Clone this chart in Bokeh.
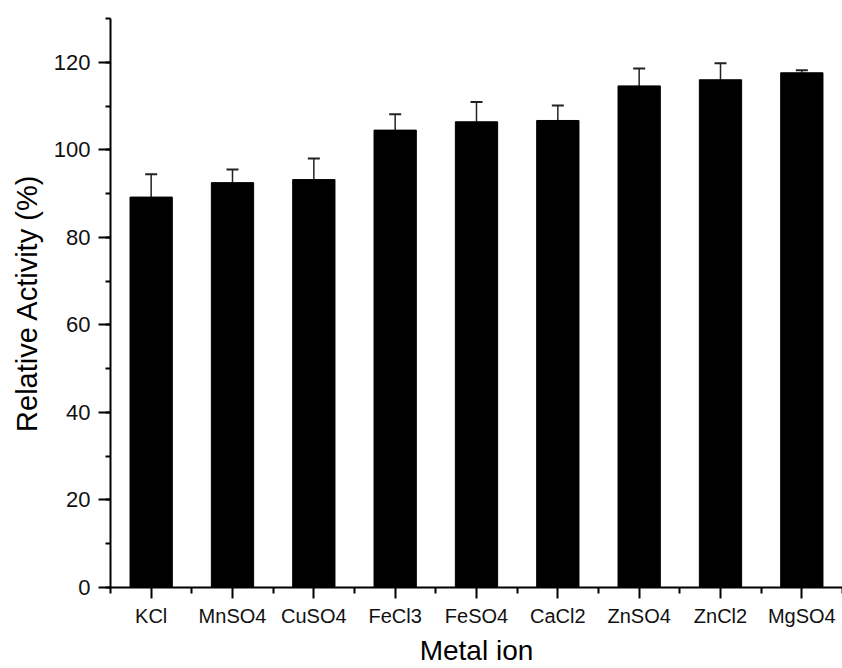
from bokeh.plotting import figure
from bokeh.models import ColumnDataSource, FixedTicker, SingleIntervalTicker, Range1d, Whisker, TeeHead
from bokeh.embed import file_html
from bokeh.resources import INLINE

categories = ["KCl", "MnSO4", "CuSO4", "FeCl3", "FeSO4", "CaCl2", "ZnSO4", "ZnCl2", "MgSO4"]
activity = [89.2, 92.5, 93.2, 104.5, 106.4, 106.7, 114.6, 116.0, 117.6]
error = [5.2, 3.0, 4.8, 3.6, 4.5, 3.4, 4.0, 3.8, 0.6]

xs = [i + 1 for i in range(len(categories))]
upper = [a + e for a, e in zip(activity, error)]
src = ColumnDataSource(dict(x=xs, top=activity, upper=upper, cat=categories))

FONT = "Liberation Sans"

p = figure(width=842, height=668, output_backend="svg", toolbar_location=None,
           x_range=Range1d(0.5, len(categories) + 0.5), y_range=Range1d(0, 130),
           min_border_left=110, min_border_right=0, min_border_top=18, min_border_bottom=81)
p.outline_line_color = None
p.xgrid.visible = False
p.ygrid.visible = False
p.background_fill_color = "white"
p.border_fill_color = "white"

p.vbar(x="x", top="top", bottom=0, width=0.52, source=src, fill_color="black", line_color="black")

w = Whisker(source=src, base="x", lower="top", upper="upper", dimension="height",
            line_color="#222222", line_width=1.5,
            upper_head=TeeHead(size=12, line_color="#222222", line_width=2), lower_head=None)
p.add_layout(w)

# x axis
p.xaxis.ticker = FixedTicker(ticks=xs, minor_ticks=[x - 0.5 for x in xs] + [xs[-1] + 0.5])
p.xaxis.major_label_overrides = {x: c for x, c in zip(xs, categories)}
p.xaxis.axis_label = "Metal ion"
# y axis
p.yaxis.ticker = SingleIntervalTicker(interval=20, num_minor_ticks=2)
p.yaxis.axis_label = "Relative Activity (%)"

for ax in (p.xaxis[0], p.yaxis[0]):
    ax.axis_line_color = "black"
    ax.axis_line_width = 2
    ax.major_tick_line_color = "black"
    ax.major_tick_line_width = 2
    ax.minor_tick_line_color = "black"
    ax.minor_tick_line_width = 2
    ax.major_tick_in = 0
    ax.minor_tick_in = 0
    ax.major_label_text_font = FONT
    ax.axis_label_text_font = FONT
    ax.axis_label_text_font_style = "normal"
    ax.major_label_text_color = "#111111"
    ax.axis_label_text_color = "black"

p.yaxis.major_tick_out = 12
p.yaxis.minor_tick_out = 5
p.yaxis.major_label_standoff = 8
p.yaxis.major_label_text_font_size = "22px"
p.yaxis.axis_label_standoff = 8
p.yaxis.axis_label_text_font_size = "29px"

p.xaxis.major_tick_out = 11
p.xaxis.minor_tick_out = 6
p.xaxis.major_label_standoff = 6
p.xaxis.major_label_text_font_size = "20px"
p.xaxis.axis_label_standoff = 5
p.xaxis.axis_label_text_font_size = "28px"

open("out.html", "w").write(file_html(p, INLINE))
